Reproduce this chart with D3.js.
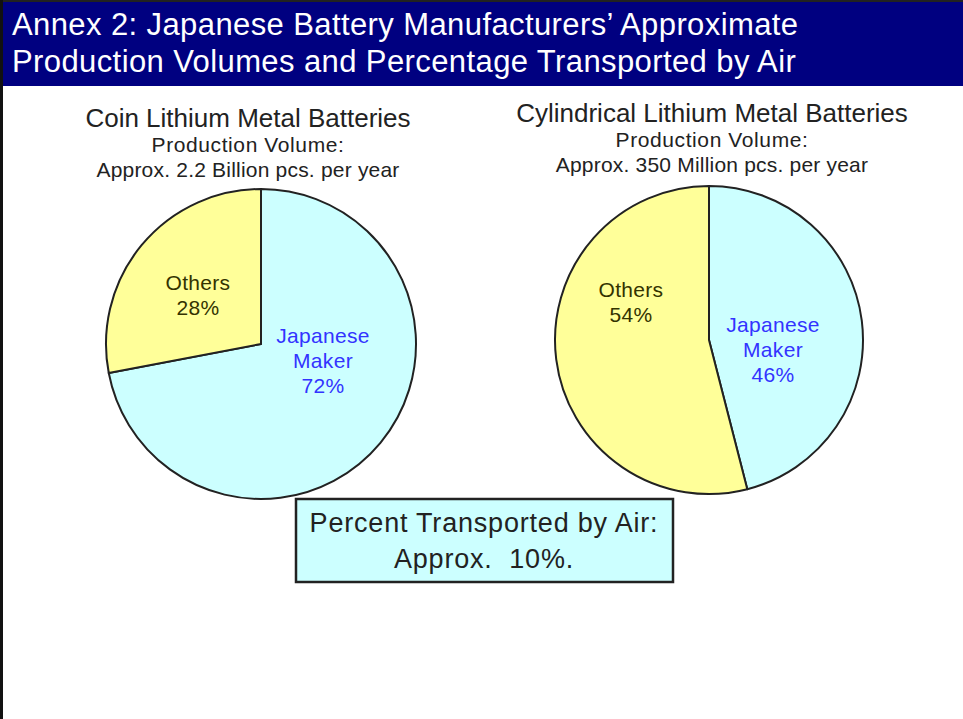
<!DOCTYPE html>
<html>
<head>
<meta charset="utf-8">
<script src="https://cdn.jsdelivr.net/npm/d3@7"></script>
<style>
  body { margin: 0; background: #fff; }
  svg { display: block; font-family: Arial, "Liberation Sans", sans-serif; }
</style>
</head>
<body>
<svg id="chart" width="963" height="719"></svg>
<script>
// data
const titleLines = [
  "Annex 2: Japanese Battery Manufacturers\u2019 Approximate",
  "Production Volumes and Percentage Transported by Air",
];
const categories = ["Japanese Maker", "Others"];
const chartNames = ["Coin Lithium Metal Batteries", "Cylindrical Lithium Metal Batteries"];
const chartVolumes = ["Approx. 2.2 Billion pcs. per year", "Approx. 350 Million pcs. per year"];
const coinShares = [72, 28];
const cylindricalShares = [46, 54];
const airNote = ["Percent Transported by Air:", "Approx.  10%."];

const colors = d3.scaleOrdinal(categories, ["#ccffff", "#ffff99"]);
const labelColors = d3.scaleOrdinal(categories, ["#3333ff", "#333300"]);

const svg = d3.select("svg#chart");
const W = 963, H = 719;

// banner
svg.append("rect").attr("x", 0).attr("y", 0).attr("width", W).attr("height", H).attr("fill", "#fff");
svg.append("rect").attr("x", 2).attr("y", 2).attr("width", W - 2).attr("height", 84).attr("fill", "#000080");
svg.append("line").attr("x1", 0).attr("x2", W).attr("y1", 1).attr("y2", 1).attr("stroke", "#222").attr("stroke-width", 2);
svg.append("line").attr("x1", 1.5).attr("x2", 1.5).attr("y1", 0).attr("y2", H).attr("stroke", "#111").attr("stroke-width", 3);

svg.append("g")
  .selectAll("text")
  .data(titleLines)
  .join("text")
  .attr("x", 12)
  .attr("y", (_d, i) => 35 + i * 37)
  .attr("fill", "#fff")
  .style("font-size", "31px")
  .style("letter-spacing", "0.4px")
  .text((d) => d);

// pies
const charts = [
  { cx: 261, cy: 344, r: 155, tx: 248, name: chartNames[0], volume: chartVolumes[0], values: coinShares, titleY: 127,
    labelOffsets: [[62, 17], [-63, -49]] },
  { cx: 709, cy: 340, r: 154, tx: 712, name: chartNames[1], volume: chartVolumes[1], values: cylindricalShares, titleY: 122,
    labelOffsets: [[64, 10], [-78, -38]] },
];

const pie = d3.pie().sort(null).value((d) => d.value);

charts.forEach((c) => {
  const g = svg.append("g");

  g.append("text").attr("x", c.tx).attr("y", c.titleY).attr("text-anchor", "middle")
    .attr("fill", "#222").style("font-size", "26px").text(c.name);
  g.append("text").attr("x", c.tx).attr("y", c.titleY + 25).attr("text-anchor", "middle")
    .attr("fill", "#222").style("font-size", "21px").style("letter-spacing", "0.6px").text("Production Volume:");
  g.append("text").attr("x", c.tx).attr("y", c.titleY + 50).attr("text-anchor", "middle")
    .attr("fill", "#222").style("font-size", "21px").style("letter-spacing", "0.2px").text(c.volume);

  const data = categories.map((k, i) => ({ key: k, value: c.values[i] }));
  const arc = d3.arc().innerRadius(0).outerRadius(c.r);
  const pg = g.append("g").attr("transform", `translate(${c.cx}, ${c.cy})`);

  pg.selectAll("path")
    .data(pie(data))
    .join("path")
    .attr("d", arc)
    .attr("fill", (d) => colors(d.data.key))
    .attr("stroke", "#222")
    .attr("stroke-width", 2)
    .attr("stroke-linejoin", "round");

  const labels = pg.selectAll("text.lbl")
    .data(pie(data))
    .join("text")
    .attr("class", "lbl")
    .attr("text-anchor", "middle")
    .attr("fill", (d) => labelColors(d.data.key))
    .style("font-size", "21px")
    .style("letter-spacing", "0.3px")
    .attr("transform", (d, i) => `translate(${c.labelOffsets[i][0]}, ${c.labelOffsets[i][1]})`);

  labels.each(function (d) {
    const lines = d.data.key.split(" ").concat([d.data.value + "%"]);
    const t = d3.select(this);
    lines.forEach((s, j) => {
      t.append("tspan")
        .attr("x", 0)
        .attr("y", (j - (lines.length - 1) / 2) * 25 + 7)
        .text(s);
    });
  });
});

// note box
const box = svg.append("g");
box.append("rect").attr("x", 296).attr("y", 499).attr("width", 377).attr("height", 83)
  .attr("fill", "#ccffff").attr("stroke", "#222").attr("stroke-width", 2.5);
box.selectAll("text")
  .data(airNote)
  .join("text")
  .attr("x", 484)
  .attr("y", (_d, i) => 532 + i * 36)
  .attr("text-anchor", "middle")
  .attr("fill", "#222")
  .style("font-size", "27px")
  .style("letter-spacing", "0.8px")
  .style("white-space", "pre")
  .text((d) => d);
</script>
</body>
</html>
